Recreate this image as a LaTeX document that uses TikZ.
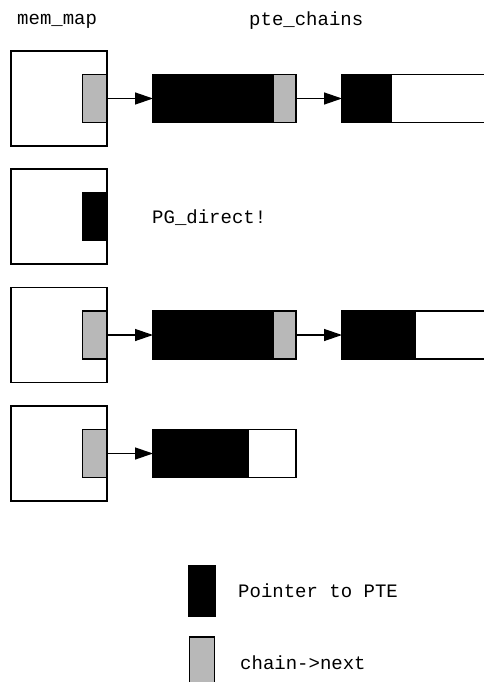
\documentclass[tikz,border=0pt]{standalone}
\usepackage{fontspec}
\newfontfamily\monof{Liberation Mono}
\usetikzlibrary{arrows.meta}
\definecolor{slotgray}{HTML}{B8B8B8}
\tikzset{
  base/.style={rectangle, draw=black, line width=1.3pt, inner sep=0pt, outer sep=0pt},
  membox/.style={base, fill=white, minimum width=96pt, minimum height=95pt},
  nextslot/.style={base, fill=slotgray, minimum width=24pt, minimum height=48pt},
  pteslot/.style={base, fill=black, minimum width=24pt, minimum height=48pt},
  chainbox/.style={base, fill=black, minimum height=48pt},
  emptybox/.style={base, fill=white, minimum height=48pt},
  lbl/.style={inner sep=0pt, anchor=west, font=\monof\fontsize{19}{21}\selectfont},
  link/.style={line width=1.3pt, -{Triangle[length=18pt, width=12pt]}}
}
\begin{document}
\begin{tikzpicture}[x=1pt, y=-1pt]
\useasboundingbox (0,0) rectangle (484,682);
% titles
\node[lbl] (tmem) at (17,21) {mem\_map};
\node[lbl] (tpte) at (249,21) {pte\_chains};
% row 1
\node[membox] (m1) at (59,98.5) {};
\node[nextslot] (s1) at (94.5,98.5) {};
\node[chainbox, minimum width=143pt] (c1) at (224.5,98.5) {};
\node[nextslot, minimum width=23pt] (g1) at (284.5,98.5) {};
\node[emptybox, minimum width=150pt] (w1) at (466,98.5) {};
\node[chainbox, minimum width=49pt] (n1) at (366.5,98.5) {};
\draw[link] (s1.east) -- (c1.west);
\draw[link] (c1.east) -- (n1.west);
% row 2
\node[membox] (m2) at (59,216.5) {};
\node[pteslot, draw=none, minimum width=25pt, minimum height=49pt] (s2) at (94.5,216.5) {};
\node[lbl] (pg) at (152,218) {PG\_direct!};
% row 3
\node[membox] (m3) at (59,335) {};
\node[nextslot] (s3) at (94.5,335) {};
\node[chainbox, minimum width=143pt] (c3) at (224.5,335) {};
\node[nextslot, minimum width=23pt] (g3) at (284.5,335) {};
\node[emptybox, minimum width=150pt] (w3) at (490,335) {};
\node[chainbox, minimum width=73pt] (n3) at (378.5,335) {};
\draw[link] (s3.east) -- (c3.west);
\draw[link] (c3.east) -- (n3.west);
% row 4
\node[membox] (m4) at (59,453.5) {};
\node[nextslot] (s4) at (94.5,453.5) {};
\node[emptybox, minimum width=143pt] (c4) at (224.5,453.5) {};
\node[chainbox, minimum width=95pt] (b4) at (200.5,453.5) {};
\draw[link] (s4.east) -- (c4.west);
% legend
\node[pteslot, minimum width=26pt, minimum height=50pt] (lk1) at (202,591) {};
\node[lbl] (lt1) at (238,591) {Pointer to PTE};
\node[nextslot, line width=1.6pt, minimum width=25pt, minimum height=50pt] (lk2) at (202,662) {};
\node[lbl] (lt2) at (240,663) {chain->next};
\end{tikzpicture}
\end{document}
